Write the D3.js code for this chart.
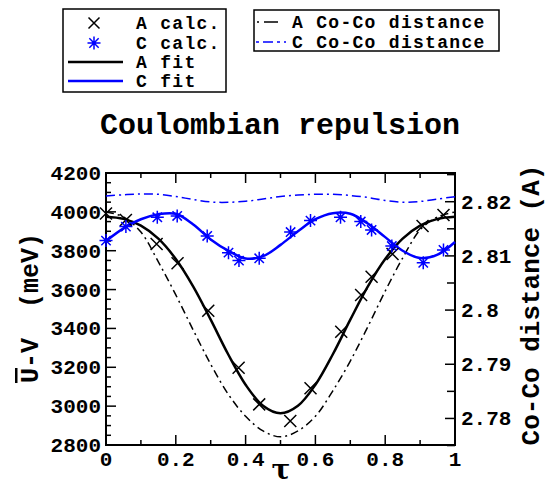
<!DOCTYPE html>
<html><head><meta charset="utf-8">
<script src="https://cdn.jsdelivr.net/npm/d3@7"></script>
<style>body{margin:0;background:#fff}svg{display:block}text{font-family:"Liberation Mono","DejaVu Sans Mono",monospace;font-weight:bold}</style>
</head><body>
<svg id="c" width="557" height="487"></svg>
<script>
// ---- data ----
const calcT = [0, 0.057, 0.145, 0.205, 0.293, 0.380, 0.439, 0.528, 0.586, 0.674, 0.731, 0.761, 0.821, 0.907, 0.967];
const aCalc = [3992, 3958, 3835, 3735, 3491, 3198, 3009, 2924, 3092, 3383, 3572, 3666, 3783, 3927, 3984];
const cCalcT = [0, 0.057, 0.147, 0.204, 0.290, 0.351, 0.381, 0.439, 0.529, 0.586, 0.672, 0.730, 0.761, 0.819, 0.909, 0.967];
const cCalc = [3852, 3924, 3972, 3979, 3876, 3790, 3749, 3761, 3896, 3955, 3972, 3950, 3907, 3824, 3738, 3804];
const fitT = [0,0.05,0.1,0.15,0.2,0.25,0.3,0.35,0.4,0.45,0.5,0.55,0.6,0.65,0.7,0.75,0.8,0.85,0.9,0.95,1];
const aFit = [3975,3964,3929,3862,3757,3615,3445,3267,3110,3002,2963,3002,3110,3267,3445,3615,3757,3862,3929,3964,3975];
const cFit = [3850,3915,3962,3988,3990,3935,3858,3800,3760,3772,3830,3900,3962,3993,3990,3940,3870,3800,3762,3780,3845];
const aDist = [2.8181,2.8172,2.8144,2.8089,2.8028,2.7963,2.7900,2.7845,2.7804,2.7777,2.7766,2.7777,2.7804,2.7851,2.7906,2.7969,2.8035,2.8096,2.8148,2.8172,2.8181];
const cDist = [2.82106,2.82128,2.82142,2.82137,2.82096,2.82041,2.81995,2.81989,2.82008,2.82050,2.82096,2.82124,2.82137,2.82137,2.82115,2.82078,2.82022,2.81989,2.82004,2.82050,2.82093];
const xTicks = [0,0.2,0.4,0.6,0.8,1];
const xTickLabels = ["0","0.2","0.4","0.6","0.8","1"];
const yTicks = [2800,3000,3200,3400,3600,3800,4000,4200];
const y2Ticks = [2.78,2.79,2.8,2.81,2.82];
const y2TickLabels = ["2.78","2.79","2.8","2.81","2.82"];
const legend1 = ["A calc.","C calc.","A fit","C fit"];
const legend2 = ["A Co-Co distance","C Co-Co distance"];
const title = "Coulombian repulsion";

// ---- layout ----
const L=106,R=455,T=173,B=445;
const x=d3.scaleLinear([0,1],[L,R]);
const y=d3.scaleLinear([2800,4200],[B,T]);
const y2=d3.scaleLinear([2.7751,2.8253],[B,T]);
const svg=d3.select("#c");
const blue="#0000ff";

// title
svg.append("text").attr("x",280).attr("y",134).attr("text-anchor","middle").attr("font-size",30).text(title);

// axes
const gB=svg.append("g").attr("transform",`translate(0,${B})`)
 .call(d3.axisBottom(x).tickValues(d3.range(0,1.0001,0.1)).tickSize(0).tickFormat(""));
gB.select(".domain").remove();
const ax=svg.append("g");
d3.range(0,11).forEach(i=>{const v=i/10;const len=i%2?5:10;
 ax.append("line").attr("x1",x(v)).attr("x2",x(v)).attr("y1",B).attr("y2",B-len);
 ax.append("line").attr("x1",x(v)).attr("x2",x(v)).attr("y1",T).attr("y2",T+len);});
d3.range(2800,4201,50).forEach(v=>{const len=v%200===0?10:5;
 ax.append("line").attr("x1",L).attr("x2",L+len).attr("y1",y(v)).attr("y2",y(v));});
d3.range(0,11).forEach(i=>{const v=2.775+i*0.005;const len=i%2?10:8;
 ax.append("line").attr("x1",R).attr("x2",R-len).attr("y1",y2(v)).attr("y2",y2(v));});
ax.selectAll("line").attr("stroke","#000").attr("stroke-width",1.5);
svg.append("rect").attr("x",L).attr("y",T).attr("width",R-L).attr("height",B-T).attr("fill","none").attr("stroke","#000").attr("stroke-width",2);

// tick labels
const fs=21;
svg.append("g").selectAll("text").data(yTicks).join("text").attr("x",L-5).attr("y",d=>y(d)+7).attr("text-anchor","end").attr("font-size",fs).text(d=>d);
svg.append("g").selectAll("text").data(y2Ticks).join("text").attr("x",R+6).attr("y",d=>y2(d)+7).attr("text-anchor","start").attr("font-size",fs).text((d,i)=>y2TickLabels[i]);
svg.append("g").selectAll("text").data(xTicks).join("text").attr("x",d=>x(d)).attr("y",B+21).attr("text-anchor","middle").attr("font-size",fs).text((d,i)=>xTickLabels[i]);

// axis titles
const yl=svg.append("text").attr("transform","translate(38,308) rotate(-90)").attr("text-anchor","middle").attr("font-size",25).attr("xml:space","preserve");
yl.append("tspan").attr("text-decoration","overline").text("U");
yl.append("tspan").text("-V  (meV)");
svg.append("text").attr("transform","translate(539,305) rotate(-90)").attr("text-anchor","middle").attr("font-size",26).text("Co-Co distance (A)");
svg.append("text").attr("x",281).attr("y",479).attr("text-anchor","middle").attr("font-size",28).style("font-family","DejaVu Serif").text("τ");

// lines
const lineL=d3.line().x((d,i)=>x(fitT[i])).y(d=>y(d)).curve(d3.curveCatmullRom);
const lineR=d3.line().x((d,i)=>x(fitT[i])).y(d=>y2(d)).curve(d3.curveCatmullRom);
const plot=svg.append("g");
plot.append("path").attr("d",lineR(aDist)).attr("fill","none").attr("stroke","#000").attr("stroke-width",1.5).attr("stroke-dasharray","8,4,2,4");
plot.append("path").attr("d",lineR(cDist)).attr("fill","none").attr("stroke",blue).attr("stroke-width",1.5).attr("stroke-dasharray","9,4,2,4");
plot.append("path").attr("d",lineL(aFit)).attr("fill","none").attr("stroke","#000").attr("stroke-width",2.5);
plot.append("path").attr("d",lineL(cFit)).attr("fill","none").attr("stroke",blue).attr("stroke-width",2.5);

function cross(g,cx,cy,s,col){g.append("path").attr("d",`M${cx-s},${cy-s}L${cx+s},${cy+s}M${cx-s},${cy+s}L${cx+s},${cy-s}`).attr("stroke",col).attr("stroke-width",1.5).attr("fill","none");}
function star(g,cx,cy,s,col){const d=s*0.72;g.append("path").attr("d",`M${cx},${cy-s}V${cy+s}M${cx-s},${cy}H${cx+s}M${cx-d},${cy-d}L${cx+d},${cy+d}M${cx-d},${cy+d}L${cx+d},${cy-d}`).attr("stroke",col).attr("stroke-width",1.5).attr("fill","none");}
aCalc.forEach((v,i)=>cross(plot,x(calcT[i]),y(v),6,"#000"));
cCalc.forEach((v,i)=>star(plot,x(cCalcT[i]),y(v),6.5,blue));

// legend 1
const lg=svg.append("g");
lg.append("rect").attr("x",63).attr("y",9).attr("width",163).attr("height",83).attr("fill","#fff").attr("stroke","#000").attr("stroke-width",1.5);
const rows=[23,43,62,81];
cross(lg,94,rows[0],5.5,"#000");
star(lg,94,rows[1],6.5,blue);
lg.append("line").attr("x1",68).attr("x2",123).attr("y1",rows[2]).attr("y2",rows[2]).attr("stroke","#000").attr("stroke-width",2.5);
lg.append("line").attr("x1",68).attr("x2",123).attr("y1",rows[3]).attr("y2",rows[3]).attr("stroke",blue).attr("stroke-width",2.5);
legend1.forEach((t,i)=>lg.append("text").attr("x",136).attr("y",rows[i]+6).attr("font-size",18).attr("letter-spacing",1.3).text(t));
// legend 2
lg.append("rect").attr("x",254).attr("y",10).attr("width",245).attr("height",41).attr("fill","#fff").attr("stroke","#000").attr("stroke-width",1.5);
const rows2=[22,42];
lg.append("line").attr("x1",257).attr("x2",283).attr("y1",rows2[0]).attr("y2",rows2[0]).attr("stroke","#000").attr("stroke-width",1.5).attr("stroke-dasharray","2,5,14,10");
lg.append("line").attr("x1",256).attr("x2",286).attr("y1",rows2[1]).attr("y2",rows2[1]).attr("stroke",blue).attr("stroke-width",1.5).attr("stroke-dasharray","3,4,10,4");
legend2.forEach((t,i)=>lg.append("text").attr("x",292).attr("y",rows2[i]+6).attr("font-size",18).attr("letter-spacing",1.3).text(t));
</script>
</body></html>
